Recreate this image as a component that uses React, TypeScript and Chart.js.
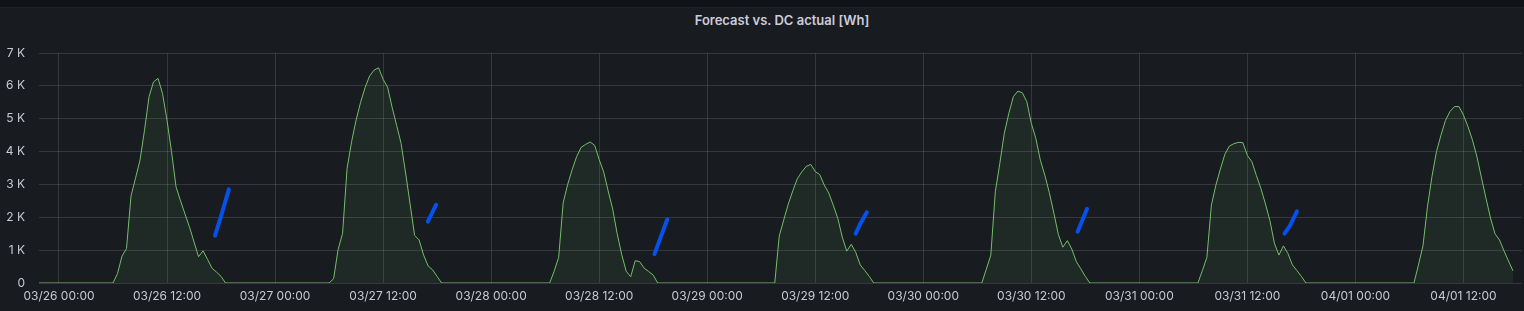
import React, { useEffect, useRef } from 'react';
import { Chart, registerables } from 'chart.js';

Chart.register(...registerables);

const TITLE = 'Forecast vs. DC actual [Wh]';
const RANGE_START_HOUR = -2.22;
const RANGE_END_HOUR = 162.5;
const BASE_DATE_UTC = Date.UTC(2023, 2, 26, 0, 0);
const STEP_HOURS = 0.5;

// Forecast, 30-minute samples (Wh), each day starting at the hour given in forecastDayStarts
const forecastDayStarts = [6, 30, 54.5, 79.5, 102.5, 126.5, 150.5];
const forecastDay1 = [0, 290, 820, 1050, 2650, 3190, 3740, 4650, 5670, 6120, 6230, 5770, 4950, 4000, 2930, 2500, 2100, 1700, 1250, 800, 980, 720, 450, 330, 200, 0];
const forecastDay2 = [0, 130, 1020, 1510, 3490, 4300, 4960, 5500, 5950, 6300, 6480, 6550, 6200, 5960, 5350, 4800, 4250, 3350, 2400, 1450, 1310, 850, 520, 400, 200, 0];
const forecastDay3 = [0, 360, 780, 2440, 3000, 3450, 3850, 4130, 4220, 4290, 4190, 3760, 3380, 2800, 2250, 1500, 870, 360, 190, 680, 650, 450, 350, 240, 0];
const forecastDay4 = [0, 1430, 1920, 2400, 2800, 3170, 3380, 3550, 3610, 3390, 3300, 2980, 2740, 2370, 1970, 1400, 970, 1180, 930, 550, 380, 200, 0];
const forecastDay5 = [0, 420, 850, 2780, 3640, 4560, 5160, 5670, 5840, 5790, 5520, 4860, 4400, 3740, 3280, 2750, 2130, 1480, 1090, 1290, 1030, 650, 430, 200, 0];
const forecastDay6 = [0, 380, 780, 2370, 2980, 3470, 3920, 4170, 4240, 4280, 4270, 3880, 3690, 3270, 2880, 2410, 1900, 1210, 850, 1130, 900, 550, 380, 200, 0];
const forecastDay7 = [0, 550, 1130, 2320, 3240, 4000, 4500, 4950, 5220, 5370, 5370, 5110, 4760, 4350, 3840, 3200, 2580, 1980, 1500, 1310, 980, 670, 370];
const forecastDays = [forecastDay1, forecastDay2, forecastDay3, forecastDay4, forecastDay5, forecastDay6, forecastDay7];

// DC actual: [hour since 03/26 00:00, Wh]
const dcActualDay1 = [[17.33, 1440], [18.1, 2130], [18.87, 2850]];
const dcActualDay2 = [[40.97, 1870], [41.88, 2380]];
const dcActualDay3 = [[66.14, 880], [67.57, 1940]];
const dcActualDay4 = [[88.49, 1500], [89.0, 1800], [89.73, 2150]];
const dcActualDay5 = [[113.14, 1560], [114.19, 2260]];
const dcActualDay6 = [[136.12, 1500], [136.7, 1730], [137.5, 2180]];
const dcActualDays = [dcActualDay1, dcActualDay2, dcActualDay3, dcActualDay4, dcActualDay5, dcActualDay6];

const GREEN = '#73BF69';
const BLUE = '#0552ea';
const TEXT = 'rgb(200,202,210)';
const GRID = 'rgba(204,204,220,0.16)';
const PANEL_BG = '#181b1f';

function pad2(n: number) {
  return n < 10 ? '0' + n : String(n);
}

function formatHour(v: number) {
  const d = new Date(BASE_DATE_UTC + v * 3600 * 1000);
  return `${pad2(d.getUTCMonth() + 1)}/${pad2(d.getUTCDate())} ${pad2(d.getUTCHours())}:${pad2(d.getUTCMinutes())}`;
}

function formatWh(v: number) {
  return v === 0 ? '0' : `${v / 1000} K`;
}

export default function App() {
  const canvasRef = useRef<HTMLCanvasElement | null>(null);

  useEffect(() => {
    if (!canvasRef.current) return;

    const forecastPoints: { x: number; y: number }[] = [{ x: RANGE_START_HOUR, y: 0 }];
    forecastDays.forEach((vals, di) => {
      vals.forEach((v, i) => {
        forecastPoints.push({ x: forecastDayStarts[di] + i * STEP_HOURS, y: v });
      });
    });

    const dcDatasets = dcActualDays.map((seg) => ({
      label: 'DC actual',
      data: seg.map(([x, y]) => ({ x, y })),
      borderColor: BLUE,
      backgroundColor: BLUE,
      borderWidth: 4,
      borderCapStyle: 'round' as const,
      borderJoinStyle: 'round' as const,
      pointRadius: 0,
      fill: false,
      tension: 0,
      order: 0,
    }));

    const chart = new Chart(canvasRef.current, {
      type: 'line',
      data: {
        datasets: [
          ...dcDatasets,
          {
            label: 'Forecast',
            data: forecastPoints,
            borderColor: GREEN,
            backgroundColor: 'rgba(115,191,105,0.09)',
            borderWidth: 1,
            pointRadius: 0,
            fill: 'origin',
            tension: 0,
            order: 1,
          },
        ],
      },
      options: {
        animation: false,
        responsive: false,
        devicePixelRatio: 1,
        layout: { padding: { top: 53, right: 2, left: 0, bottom: 0 } },
        plugins: {
          legend: { display: false },
          tooltip: { enabled: false },
          title: { display: false },
        },
        scales: {
          x: {
            type: 'linear',
            min: RANGE_START_HOUR,
            max: RANGE_END_HOUR,
            afterFit: (scale: any) => {
              scale.height = 28;
            },
            border: { display: false },
            grid: { color: GRID, drawTicks: false, lineWidth: 1 },
            ticks: {
              stepSize: 12,
              includeBounds: false,
              autoSkip: false,
              maxRotation: 0,
              padding: 6,
              color: TEXT,
              font: { family: 'Inter', size: 12 },
              callback: (v: any) => formatHour(Number(v)),
            },
          },
          y: {
            type: 'linear',
            min: 0,
            max: 7000,
            afterFit: (scale: any) => {
              scale.width = 39;
            },
            border: { display: false },
            grid: { color: GRID, drawTicks: false, lineWidth: 1 },
            ticks: {
              stepSize: 1000,
              padding: 14,
              color: TEXT,
              font: { family: 'Inter', size: 12 },
              callback: (v: any) => formatWh(Number(v)),
            },
          },
        },
      },
    });

    return () => {
      chart.destroy();
    };
  }, []);

  return (
    <div style={{ position: 'relative', width: 1524, height: 311, background: PANEL_BG, overflow: 'hidden' }}>
      <style>{`html,body{margin:0;padding:0;background:#111217;}`}</style>
      <div
        style={{
          position: 'absolute',
          left: 0,
          top: 0,
          width: 1524,
          height: 7,
          background: '#111217',
          borderBottom: '1px solid rgba(204,204,220,0.08)',
        }}
      />
      <div
        style={{
          position: 'absolute',
          left: 0,
          width: 1564,
          top: 12,
          lineHeight: '16px',
          textAlign: 'center',
          fontFamily: 'Inter',
          fontWeight: 600,
          fontSize: 13,
          color: 'rgb(204,204,220)',
          whiteSpace: 'nowrap',
        }}
      >
        {TITLE}
      </div>
      <canvas
        ref={canvasRef}
        width={1524}
        height={311}
        style={{ position: 'absolute', left: 0, top: 0, width: 1524, height: 311, display: 'block' }}
      />
    </div>
  );
}
